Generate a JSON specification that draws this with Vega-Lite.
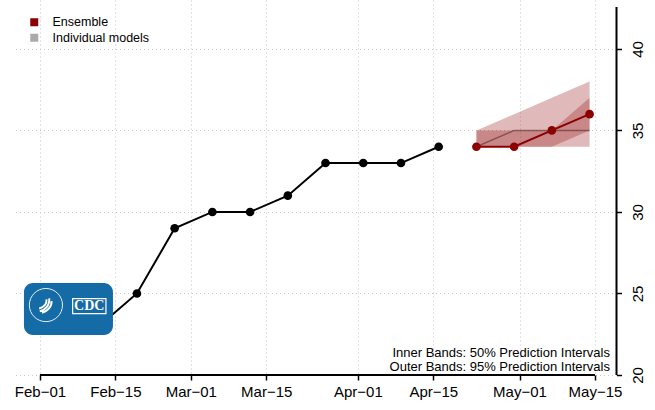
{
  "$schema": "https://vega.github.io/schema/vega-lite/v6.json",
  "autosize": {"type": "none"},
  "width": 603.5,
  "height": 375,
  "padding": {"left": 13, "top": 0, "right": 38.5, "bottom": 35},
  "background": "white",
  "config": {
    "font": "Liberation Sans",
    "view": {"stroke": null}
  },
  "datasets": {
    "obs": [
      {"date": "2021-02-12", "value": 23},
      {"date": "2021-02-19", "value": 25},
      {"date": "2021-02-26", "value": 29},
      {"date": "2021-03-05", "value": 30},
      {"date": "2021-03-12", "value": 30},
      {"date": "2021-03-19", "value": 31},
      {"date": "2021-03-26", "value": 33},
      {"date": "2021-04-02", "value": 33},
      {"date": "2021-04-09", "value": 33},
      {"date": "2021-04-16", "value": 34}
    ],
    "fc": [
      {"date": "2021-04-23", "series": "Ensemble", "median": 34, "lo95": 34, "hi95": 35, "lo50": 34, "hi50": 35, "indiv": 34},
      {"date": "2021-04-30", "series": "Ensemble", "median": 34, "lo95": 34, "hi95": 36, "lo50": 34, "hi50": 35, "indiv": 35},
      {"date": "2021-05-07", "series": "Ensemble", "median": 35, "lo95": 34, "hi95": 37, "lo50": 34, "hi50": 35, "indiv": 35},
      {"date": "2021-05-14", "series": "Ensemble", "median": 36, "lo95": 34, "hi95": 38, "lo50": 35, "hi50": 37, "indiv": 35}
    ],
    "axisline": [
      {"start": "2021-02-01", "end": "2021-05-15", "value": 20}
    ],
    "yaxisline": [
      {"date": "2021-05-19", "low": 20, "high": 42.57}
    ],
    "logo": [
      {"start": "2021-01-29T00:43:00Z", "end": "2021-02-14T13:12:00Z", "top": 25.64, "bottom": 22.45}
    ],
    "cdcbox": [
      {"start": "2021-02-07T01:40:00Z", "end": "2021-02-13T06:00:00Z", "top": 24.68, "bottom": 23.76}
    ],
    "cdctext": [
      {"date": "2021-02-10T03:36:00Z", "value": 24.22, "label": "CDC"}
    ],
    "seal": [
      {"date": "2021-02-02T02:40:00Z", "value": 24.29}
    ],
    "notes": [
      {"date": "2021-05-17T18:43:00Z", "value": 21.1, "label": "Inner Bands: 50% Prediction Intervals"},
      {"date": "2021-05-17T18:43:00Z", "value": 20.25, "label": "Outer Bands: 95% Prediction Intervals"}
    ]
  },
  "encoding": {
    "x": {
      "field": "date",
      "type": "temporal",
      "scale": {
        "type": "utc",
        "domain": [
          {"year": 2021, "month": 1, "date": 27, "utc": true},
          {"year": 2021, "month": 5, "date": 19, "utc": true}
        ]
      },
      "axis": {
        "title": null,
        "orient": "bottom",
        "domain": false,
        "values": [
          {"year": 2021, "month": 2, "date": 1, "utc": true},
          {"year": 2021, "month": 2, "date": 15, "utc": true},
          {"year": 2021, "month": 3, "date": 1, "utc": true},
          {"year": 2021, "month": 3, "date": 15, "utc": true},
          {"year": 2021, "month": 4, "date": 1, "utc": true},
          {"year": 2021, "month": 4, "date": 15, "utc": true},
          {"year": 2021, "month": 5, "date": 1, "utc": true},
          {"year": 2021, "month": 5, "date": 15, "utc": true}
        ],
        "labelExpr": "utcFormat(datum.value, '%b−%d')",
        "labelFontSize": 15,
        "labelColor": "black",
        "labelPadding": 4,
        "tickSize": 5,
        "tickColor": "black",
        "tickWidth": 1.5,
        "grid": true,
        "gridColor": "#c8c8c8",
        "gridDash": [1, 3],
        "gridWidth": 1,
        "labelFlush": false,
        "labelOverlap": false
      }
    },
    "y": {
      "type": "quantitative",
      "scale": {"domain": [20, 43], "nice": false, "zero": false},
      "axis": {
        "title": null,
        "orient": "right",
        "values": [20, 25, 30, 35, 40],
        "domain": false,
        "tickSize": 5,
        "tickColor": "black",
        "tickWidth": 1.5,
        "labelAngle": 270,
        "labelAlign": "center",
        "labelBaseline": "top",
        "labelFontSize": 15,
        "labelColor": "black",
        "labelPadding": 9,
        "grid": true,
        "gridColor": "#c8c8c8",
        "gridDash": [1, 3],
        "gridWidth": 1,
        "labelFlush": false,
        "labelOverlap": false
      }
    }
  },
  "layer": [
    {
      "data": {"name": "fc"},
      "mark": {"type": "area", "color": "#8B0000", "opacity": 0.27},
      "encoding": {"y": {"field": "lo95"}, "y2": {"field": "hi95"}}
    },
    {
      "data": {"name": "fc"},
      "mark": {"type": "area", "color": "#8B0000", "opacity": 0.27},
      "encoding": {"y": {"field": "lo50"}, "y2": {"field": "hi50"}}
    },
    {
      "data": {"name": "fc"},
      "mark": {"type": "line", "color": "#5a2e2e", "opacity": 0.6, "strokeWidth": 1.5},
      "encoding": {"y": {"field": "indiv"}}
    },
    {
      "data": {"name": "obs"},
      "mark": {"type": "line", "color": "black", "strokeWidth": 2},
      "encoding": {"y": {"field": "value"}}
    },
    {
      "data": {"name": "obs"},
      "mark": {"type": "point", "shape": "circle", "filled": true, "color": "black", "opacity": 1, "size": 75},
      "encoding": {"y": {"field": "value"}}
    },
    {
      "data": {"name": "fc"},
      "mark": {"type": "line", "color": "#8B0000", "strokeWidth": 2},
      "encoding": {"y": {"field": "median"}}
    },
    {
      "data": {"name": "fc"},
      "mark": {"type": "point", "shape": "circle", "filled": true, "opacity": 1, "size": 75},
      "encoding": {
        "y": {"field": "median"},
        "color": {
          "field": "series",
          "type": "nominal",
          "scale": {"domain": ["Ensemble", "Individual models"], "range": ["#8B0000", "#AAAAAA"]},
          "legend": {
            "title": null,
            "orient": "none",
            "legendX": 15,
            "legendY": 16,
            "padding": 0,
            "symbolType": "square",
            "symbolSize": 64,
            "symbolStrokeWidth": 0,
            "symbolOpacity": 1,
            "labelFontSize": 12.5,
            "labelColor": "black",
            "labelOffset": 12,
            "rowPadding": 2.5,
            "labelLimit": 300
          }
        }
      }
    },
    {
      "data": {"name": "axisline"},
      "mark": {"type": "rule", "color": "black", "strokeWidth": 2},
      "encoding": {
        "x": {"field": "start", "type": "temporal"},
        "x2": {"field": "end"},
        "y": {"field": "value"}
      }
    },
    {
      "data": {"name": "yaxisline"},
      "mark": {"type": "rule", "color": "black", "strokeWidth": 2},
      "encoding": {
        "y": {"field": "low"},
        "y2": {"field": "high"}
      }
    },
    {
      "data": {"name": "logo"},
      "mark": {"type": "rect", "color": "#156ba6", "cornerRadius": 9},
      "encoding": {
        "x": {"field": "start", "type": "temporal"},
        "x2": {"field": "end"},
        "y": {"field": "top"},
        "y2": {"field": "bottom"}
      }
    },
    {
      "data": {"name": "cdcbox"},
      "mark": {"type": "rect", "fill": null, "fillOpacity": 0, "stroke": "white", "strokeWidth": 1.2},
      "encoding": {
        "x": {"field": "start", "type": "temporal"},
        "x2": {"field": "end"},
        "y": {"field": "top"},
        "y2": {"field": "bottom"}
      }
    },
    {
      "data": {"name": "cdctext"},
      "mark": {"type": "text", "color": "white", "font": "Liberation Serif", "fontWeight": "bold", "fontSize": 14, "align": "center", "baseline": "middle"},
      "encoding": {"y": {"field": "value"}, "text": {"field": "label"}}
    },
    {
      "data": {"name": "seal"},
      "mark": {"type": "point", "shape": "circle", "filled": false, "stroke": "white", "strokeWidth": 1, "opacity": 0.9, "size": 1100},
      "encoding": {"y": {"field": "value"}}
    },
    {
      "data": {"name": "seal"},
      "mark": {"type": "point", "shape": "M -0.55 0.55 C -0.1 0.45 0.35 0.05 0.3 -0.6 M -0.35 0.7 C 0.1 0.55 0.55 0.15 0.5 -0.35 M -0.6 0.3 C -0.2 0.2 0.1 -0.1 0.05 -0.5", "filled": false, "stroke": "white", "strokeWidth": 2, "opacity": 1, "size": 500},
      "encoding": {"y": {"field": "value"}}
    },
    {
      "data": {"name": "notes"},
      "mark": {"type": "text", "color": "black", "fontSize": 13, "align": "right", "baseline": "alphabetic"},
      "encoding": {"y": {"field": "value"}, "text": {"field": "label"}}
    }
  ]
}
